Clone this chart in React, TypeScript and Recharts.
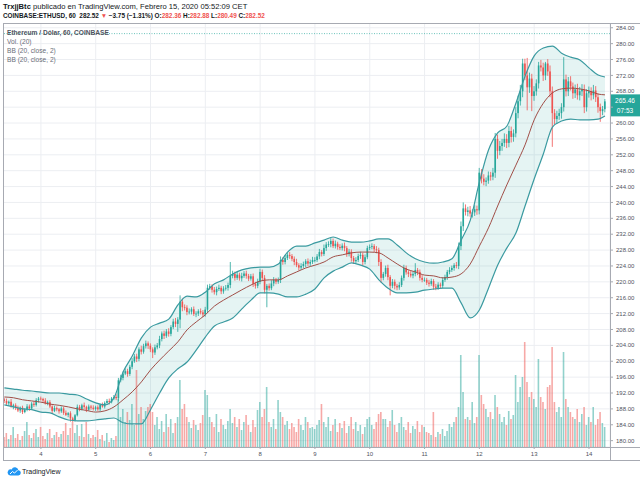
import React from "react";
import {
  ComposedChart,
  Bar,
  Line,
  Area,
  XAxis,
  YAxis,
  CartesianGrid,
  ReferenceLine,
  Cell,
} from "recharts";

const FONT = '"Liberation Sans", Arial, sans-serif';
const UP = "#26a69a";
const DOWN = "#ef5350";
const VOL_UP = "rgba(38,166,154,0.5)";
const VOL_DOWN = "rgba(239,83,80,0.5)";
const BAND = "#3a9aa0";
const BASIS = "#a04e47";

// hours counted from Feb 4 00:00, first candle is Feb 3 08:00
const FIRST_HOUR = -16;
const FIRST_OPEN = 190.4;

// hourly closes, one array per day
const closeFeb03 = [190.0, 189.4, 189.8, 188.6, 188.9, 188.2, 187.6, 188.3, 187.2, 187.8, 188.6, 188.1, 189.3, 189.0, 190.2, 190.6];
const closeFeb04 = [190.5, 190.1, 189.4, 189.7, 188.6, 187.5, 188.2, 187.9, 187.4, 188.1, 187.0, 186.5, 186.9, 185.6, 185.2, 186.4, 188.5, 188.0, 188.9, 188.5, 187.8, 188.6, 188.3, 188.0];
const closeFeb05 = [188.4, 187.9, 189.0, 188.6, 189.5, 190.0, 189.7, 190.6, 191.0, 190.7, 195.2, 195.8, 196.9, 197.5, 196.8, 198.6, 200.0, 201.2, 200.6, 203.0, 202.4, 203.8, 204.5, 203.9];
const closeFeb06 = [203.0, 202.2, 203.5, 204.0, 205.6, 207.0, 206.4, 207.5, 206.9, 208.6, 210.0, 209.4, 210.5, 215.0, 213.6, 213.5, 212.4, 212.5, 213.1, 211.9, 212.0, 212.6, 212.3, 211.8];
const closeFeb07 = [213.0, 218.5, 218.9, 218.0, 217.4, 218.2, 218.5, 217.6, 218.3, 218.5, 219.2, 221.5, 222.0, 221.0, 221.8, 220.9, 221.5, 222.1, 221.5, 220.8, 221.4, 219.5, 219.0, 220.0];
const closeFeb08 = [222.5, 221.0, 218.0, 219.0, 218.4, 219.6, 220.5, 220.0, 220.5, 225.5, 225.0, 226.0, 226.8, 226.5, 225.8, 225.0, 224.2, 223.6, 224.0, 224.5, 225.2, 224.6, 225.0, 225.5];
const closeFeb09 = [225.5, 226.4, 227.5, 227.0, 228.5, 229.4, 229.5, 230.3, 229.0, 229.6, 228.8, 228.5, 229.1, 228.5, 227.0, 227.6, 226.0, 225.2, 225.5, 226.5, 226.8, 225.0, 226.2, 228.5];
const closeFeb10 = [228.8, 229.0, 228.2, 228.0, 225.0, 221.0, 222.0, 223.5, 221.2, 219.0, 220.0, 219.0, 218.6, 219.2, 221.0, 223.5, 222.4, 222.0, 221.6, 222.0, 223.0, 222.5, 221.0, 220.5];
const closeFeb11 = [220.5, 219.8, 219.5, 220.2, 218.8, 218.5, 219.3, 219.0, 220.5, 221.2, 222.5, 223.0, 223.5, 224.2, 224.0, 229.0, 234.0, 238.5, 237.6, 238.0, 237.2, 237.5, 238.3, 238.0];
const closeFeb12 = [247.5, 246.0, 245.2, 245.5, 246.8, 246.5, 247.5, 256.0, 253.0, 254.2, 255.0, 256.0, 255.0, 258.0, 256.5, 257.4, 262.5, 265.5, 268.0, 275.0, 272.0, 269.0, 271.2, 266.8];
const closeFeb13 = [268.0, 270.0, 274.5, 274.0, 272.0, 275.0, 273.0, 268.0, 262.5, 261.0, 261.8, 262.5, 264.0, 271.0, 268.0, 270.5, 269.2, 267.5, 268.5, 267.0, 268.0, 268.5, 264.0, 267.5];
const closeFeb14 = [268.0, 267.0, 268.2, 266.5, 264.0, 263.0, 263.5, 265.46];

// wick length above the body / below the body
const upWick = [
  0.4, 0.6, 0.3, 0.7, 0.4, 0.5, 0.6, 0.3, 0.5, 0.4, 0.6, 0.5, 0.4, 0.6, 0.5, 0.4,
  0.5, 0.3, 0.6, 0.4, 0.5, 0.3, 0.6, 0.4, 0.3, 0.5, 0.4, 0.6, 0.3, 0.5, 0.4, 0.3, 0.6, 0.5, 0.4, 0.7, 0.3, 0.5, 0.4, 0.6,
  0.4, 0.5, 0.3, 0.6, 0.4, 0.5, 0.6, 0.4, 0.5, 0.7, 0.6, 0.8, 0.5, 0.7, 0.6, 0.5, 0.8, 0.6, 0.7, 0.5, 0.9, 0.6, 0.7, 0.5,
  0.6, 0.5, 0.7, 0.6, 0.8, 0.5, 0.7, 0.6, 0.8, 0.5, 0.7, 0.9, 0.6, 1.6, 0.8, 0.7, 0.6, 0.8, 0.5, 0.7, 0.6, 0.5, 0.7, 0.6,
  0.7, 0.8, 0.6, 0.5, 0.7, 0.6, 0.8, 0.5, 0.6, 0.7, 0.6, 3.5, 0.8, 0.6, 0.7, 0.5, 0.8, 0.6, 0.7, 0.5, 0.6, 0.7, 0.5, 0.8,
  0.8, 0.6, 0.7, 0.5, 0.6, 0.8, 0.7, 0.5, 0.6, 0.9, 0.7, 0.8, 0.6, 0.7, 0.5, 0.6, 0.8, 0.5, 0.7, 0.6, 0.5, 0.7, 0.6, 0.8,
  0.7, 0.6, 0.8, 0.5, 0.9, 0.6, 0.7, 0.7, 0.6, 0.8, 0.5, 0.7, 0.6, 0.8, 0.5, 0.7, 0.6, 0.5, 0.7, 0.6, 0.8, 0.5, 0.7, 0.6,
  0.6, 0.7, 0.5, 0.8, 0.6, 0.7, 0.5, 0.6, 0.8, 0.5, 0.7, 0.6, 0.5, 0.7, 0.6, 0.8, 0.6, 0.5, 0.7, 0.6, 1.7, 0.5, 0.6, 0.7,
  0.6, 0.5, 0.7, 0.6, 0.5, 0.7, 0.6, 0.5, 0.7, 0.6, 0.5, 0.7, 0.6, 0.5, 0.8, 0.9, 1.2, 1.5, 1.0, 0.9, 1.1, 0.8, 1.0, 0.9,
  1.2, 0.9, 1.1, 0.8, 1.0, 0.9, 1.2, 1.5, 1.1, 1.3, 1.0, 1.4, 1.2, 1.3, 1.1, 1.0, 1.5, 1.4, 1.6, 1.2, 1.2, 4.4, 1.5, 1.2,
  1.3, 1.0, 0.9, 1.4, 1.2, 0.4, 1.1, 1.5, 1.2, 1.0, 1.3, 1.1, 1.0, 5.6, 1.2, 1.1, 1.3, 1.0, 1.2, 1.4, 1.1, 1.3, 1.2, 1.0,
  1.2, 1.0, 1.4, 1.1, 1.0, 0.9, 0.8, 0.6,
];
const downWick = [
  0.5, 0.4, 0.6, 0.3, 0.7, 0.5, 0.4, 0.6, 0.5, 0.3, 0.4, 0.6, 0.3, 0.5, 0.4, 0.6,
  0.4, 0.6, 0.3, 0.5, 0.4, 0.7, 0.3, 0.5, 0.6, 0.4, 0.5, 0.3, 0.6, 0.8, 0.5, 0.4, 0.3, 0.6, 0.4, 0.5, 0.6, 0.3, 0.5, 0.4,
  0.5, 0.4, 0.6, 0.3, 0.5, 0.4, 0.6, 0.3, 0.4, 0.5, 0.8, 0.5, 0.6, 0.4, 0.7, 0.5, 0.6, 0.4, 0.8, 0.6, 0.7, 0.5, 0.6, 0.8,
  0.7, 1.4, 0.6, 0.5, 0.7, 0.6, 0.8, 0.5, 0.7, 0.6, 0.5, 0.8, 2.0, 2.2, 1.0, 0.7, 0.8, 0.6, 0.7, 0.5, 0.8, 0.6, 0.5, 0.7,
  0.6, 0.8, 0.5, 0.7, 0.6, 0.8, 0.5, 0.7, 0.6, 0.5, 0.7, 0.8, 0.6, 0.7, 0.5, 0.6, 0.8, 0.5, 0.7, 0.6, 0.5, 0.8, 0.7, 0.6,
  0.6, 0.7, 0.9, 4.4, 0.6, 0.5, 0.7, 0.6, 0.5, 0.8, 0.7, 0.6, 0.5, 0.7, 0.6, 0.8, 0.5, 0.7, 0.6, 0.5, 0.8, 0.6, 0.7, 0.5,
  0.6, 0.5, 0.7, 0.6, 0.5, 0.7, 0.6, 0.8, 0.5, 0.6, 0.7, 0.5, 0.6, 0.8, 0.7, 0.6, 0.9, 0.7, 0.6, 0.5, 0.7, 0.9, 0.6, 0.5,
  0.5, 0.6, 0.7, 0.8, 1.0, 1.2, 0.6, 0.7, 0.8, 2.4, 0.6, 0.9, 0.7, 0.6, 0.5, 0.7, 0.6, 0.8, 0.5, 0.7, 0.6, 0.8, 0.7, 0.6,
  0.5, 0.6, 0.7, 0.5, 0.8, 0.6, 0.5, 0.7, 0.6, 0.5, 0.7, 0.6, 0.5, 0.7, 0.6, 0.8, 1.0, 1.2, 0.9, 1.1, 0.8, 1.0, 0.9, 1.1,
  1.0, 1.2, 0.9, 1.1, 0.8, 1.0, 0.9, 1.3, 2.0, 1.1, 1.2, 1.0, 1.3, 1.1, 1.4, 1.2, 1.0, 1.3, 1.1, 1.5, 1.2, 5.8, 1.4, 3.8,
  1.2, 1.1, 1.3, 1.0, 1.4, 1.2, 1.1, 1.5, 8.5, 1.3, 1.2, 1.0, 1.4, 1.1, 1.3, 1.2, 1.0, 1.4, 1.2, 1.1, 1.3, 1.2, 1.5, 1.1,
  1.1, 1.3, 1.0, 1.2, 1.4, 2.7, 1.0, 0.8,
];

// hourly volume (relative units)
const volume = [
  10, 14, 8, 12, 20, 9, 13, 7, 11, 16, 25, 12, 9, 14, 18, 10,
  20, 11, 8, 14, 18, 9, 12, 15, 10, 13, 16, 24, 12, 19, 25, 14, 22, 11, 23, 10, 25, 13, 9, 12,
  10, 17, 8, 12, 6, 14, 5, 9, 7, 11, 48, 30, 38, 25, 35, 27, 43, 22, 77, 33, 40, 28, 36, 40,
  43, 35, 22, 30, 18, 26, 15, 33, 20, 28, 14, 24, 30, 67, 38, 43, 30, 25, 19, 27, 22, 17, 24, 32,
  57, 52, 30, 25, 20, 33, 15, 28, 22, 18, 26, 38, 24, 30, 20, 28, 17, 25, 32, 22, 15, 27, 20, 37,
  45, 30, 38, 60, 25, 20, 28, 18, 47, 35, 30, 22, 26, 18, 24, 20, 15, 28, 22, 17, 30, 25, 19, 20,
  18, 22, 27, 43, 25, 20, 30, 16, 22, 28, 15, 24, 19, 26, 14, 21, 30, 18, 25, 16, 22, 13, 20, 28,
  30, 22, 18, 25, 33, 35, 28, 28, 20, 26, 37, 22, 15, 24, 30, 20, 17, 25, 14, 21, 18, 26, 15, 22,
  20, 15, 14, 12, 35, 10, 15, 13, 18, 11, 16, 23, 20, 25, 30, 40, 92, 55, 28, 30, 27, 45, 24, 30,
  92, 52, 43, 38, 30, 35, 28, 52, 40, 33, 25, 30, 22, 36, 28, 32, 72, 45, 60, 70, 105, 65, 50, 55,
  48, 40, 88, 50, 45, 38, 60, 62, 100, 45, 35, 40, 30, 95, 48, 40, 35, 30, 28, 38, 25, 33, 40, 22,
  30, 25, 40, 22, 28, 35, 24, 20,
];

// Bollinger band (20, close, 2) read every 4 hours
const bbHours = [-16, -12, -8, -4, 0, 4, 8, 12, 16, 20, 24, 28, 32, 36, 40, 44, 48, 52, 56, 60, 64, 68, 72, 76, 80, 84, 88, 92, 96, 100, 104, 108, 112, 116, 120, 124, 128, 132, 136, 140, 144, 148, 152, 156, 160, 164, 168, 172, 176, 180, 184, 188, 192, 196, 200, 204, 208, 212, 216, 220, 224, 228, 232, 236, 240, 244, 247];
const bbUpper = [193.3, 193.0, 192.7, 192.5, 192.2, 192.0, 192.0, 191.7, 191.5, 190.5, 189.5, 189.0, 190.8, 197.3, 201.3, 205.9, 208.6, 209.6, 210.6, 214.2, 216.4, 216.2, 217.4, 219.5, 220.5, 222.0, 223.0, 223.5, 223.7, 223.7, 224.5, 227.5, 229.0, 229.0, 229.8, 230.5, 231.3, 230.5, 230.0, 230.0, 230.3, 230.8, 230.8, 229.3, 227.3, 225.8, 225.0, 224.7, 225.0, 225.8, 230.5, 235.5, 245.1, 253.2, 257.5, 259.2, 265.0, 271.8, 276.9, 278.9, 279.4, 277.6, 276.6, 275.9, 273.9, 272.1, 271.6];
const bbBasis = [191.0, 190.8, 190.3, 190.0, 189.7, 189.2, 188.9, 188.5, 188.0, 187.6, 187.2, 187.5, 188.5, 190.3, 192.3, 194.8, 197.8, 200.3, 202.6, 204.9, 207.9, 209.9, 211.7, 213.9, 215.4, 216.7, 218.0, 219.2, 220.2, 220.5, 220.5, 221.5, 222.5, 223.5, 224.2, 225.0, 226.3, 226.8, 227.3, 227.5, 227.5, 227.3, 226.0, 224.5, 223.2, 222.5, 221.7, 221.5, 221.0, 221.2, 222.0, 224.5, 229.0, 233.6, 239.1, 244.4, 249.4, 254.5, 260.8, 265.0, 267.6, 268.6, 268.8, 268.6, 268.1, 267.3, 267.1];
const bbLower = [189.0, 188.5, 188.0, 187.8, 187.2, 187.0, 186.0, 185.2, 185.0, 185.0, 185.2, 185.5, 185.7, 184.5, 184.2, 184.2, 187.8, 192.0, 195.8, 198.1, 199.8, 202.8, 206.1, 208.9, 209.9, 210.9, 213.2, 215.4, 217.2, 217.2, 216.9, 216.2, 216.2, 216.9, 218.2, 221.0, 222.7, 223.7, 224.8, 224.2, 223.2, 220.5, 218.4, 217.2, 217.2, 217.4, 217.9, 218.2, 218.4, 218.4, 214.7, 210.9, 212.9, 218.4, 224.2, 228.5, 232.3, 239.1, 245.9, 252.2, 259.0, 260.5, 261.0, 260.8, 260.8, 261.0, 261.8];

const dayTicks = [0, 24, 48, 72, 96, 120, 144, 168, 192, 216, 240];
const dayLabels = ["4", "5", "6", "7", "8", "9", "10", "11", "12", "13", "14"];
const priceTicks = [180, 184, 188, 192, 196, 200, 204, 208, 212, 216, 220, 224, 228, 232, 236, 240, 244, 248, 252, 256, 260, 264, 268, 272, 276, 280, 284];

const LAST_PRICE = 265.46;
const PRICE_LINE = 282.52;
// the tick label hidden under the last-price tag
const HIDDEN_TICK = 264;

const closes = [
  ...closeFeb03, ...closeFeb04, ...closeFeb05, ...closeFeb06, ...closeFeb07, ...closeFeb08,
  ...closeFeb09, ...closeFeb10, ...closeFeb11, ...closeFeb12, ...closeFeb13, ...closeFeb14,
];

const bbIndex = new Map(bbHours.map((h, k) => [h, k]));

const rows = closes.map((c, i) => {
  const t = FIRST_HOUR + i;
  // crypto hourly bars open at the previous close
  const o = i === 0 ? FIRST_OPEN : closes[i - 1];
  const k = bbIndex.get(t);
  return {
    t,
    o,
    c,
    h: Math.max(o, c) + upWick[i],
    l: Math.min(o, c) - downWick[i],
    v: volume[i],
    up: c >= o,
    band: k === undefined ? null : [bbLower[k], bbUpper[k]],
    bbU: k === undefined ? null : bbUpper[k],
    bbM: k === undefined ? null : bbBasis[k],
    bbL: k === undefined ? null : bbLower[k],
  };
});

function Candle(props: any) {
  const { x, y, width, height, payload } = props;
  if (!payload || height == null) return null;
  const { o, c, h, l } = payload;
  const k = height / (h - l);
  const cx = x + width / 2;
  const yo = y + (h - o) * k;
  const yc = y + (h - c) * k;
  const color = c >= o ? UP : DOWN;
  return (
    <g>
      <line x1={cx} x2={cx} y1={y} y2={y + height} stroke={color} strokeWidth={0.8} />
      <rect x={cx - 0.8} y={Math.min(yo, yc)} width={1.6} height={Math.max(Math.abs(yc - yo), 0.8)} fill={color} />
    </g>
  );
}

function PriceTick(props: any) {
  const { x, y, payload } = props;
  if (payload.value === HIDDEN_TICK) return <g />;
  return (
    <text x={x} y={y} dy="0.35em" textAnchor="start" fontSize={6} fill="#50535e" fontFamily={FONT}>
      {Number(payload.value).toFixed(2)}
    </text>
  );
}

function PriceTag(props: any) {
  const vb = props.viewBox;
  if (!vb) return null;
  const x = vb.x + vb.width;
  const y = vb.y;
  return (
    <g>
      <rect x={x} y={y - 7} width={30} height={22} fill={UP} />
      <text x={x + 15} y={y + 1.5} textAnchor="middle" fontSize={6.5} fill="#fff" fontFamily={FONT}>
        {LAST_PRICE.toFixed(2)}
      </text>
      <text x={x + 15} y={y + 12} textAnchor="middle" fontSize={6.5} fill="#fff" fontFamily={FONT}>
        07:53
      </text>
    </g>
  );
}

function Logo() {
  return (
    <svg width={14} height={10} viewBox="0 0 14 10" style={{ position: "absolute", left: 7, top: 466 }}>
      <path d="M3 9.5 h8 a2.6 2.6 0 0 0 0.4 -5.2 a3.6 3.6 0 0 0 -6.8 -0.9 a3 3 0 0 0 -1.6 6.1z" fill="#2196f3" />
      <path d="M3 8 l2.5 -2.5 l2 1.6 l3 -3" stroke="#fff" strokeWidth={1} fill="none" />
    </svg>
  );
}

const grey = "#a7aab2";

export default function App() {
  return (
    <div
      style={{
        position: "absolute",
        left: 0,
        top: 0,
        width: 640,
        height: 481,
        background: "#fff",
        fontFamily: FONT,
        color: "#131722",
        overflow: "hidden",
      }}
    >
      <div style={{ position: "absolute", left: 3, top: 2, fontSize: 7.6, lineHeight: "9px", whiteSpace: "nowrap" }}>
        <b>TrxjjBtc</b> publicado en TradingView.com, Febrero 15, 2020 05:52:09 CET
      </div>
      <div
        style={{
          position: "absolute",
          left: 3,
          top: 11,
          fontSize: 6.4,
          fontWeight: 700,
          lineHeight: "9px",
          whiteSpace: "nowrap",
        }}
      >
        COINBASE:ETHUSD, 60&nbsp; 282.52 <span style={{ color: DOWN }}>▼</span> −3.75 (−1.31%) O:
        <span style={{ color: DOWN }}>282.36</span> H:<span style={{ color: DOWN }}>282.88</span> L:
        <span style={{ color: DOWN }}>280.49</span> C:<span style={{ color: DOWN }}>282.52</span>
      </div>

      <div style={{ position: "absolute", left: 3, top: 23 }}>
        <ComposedChart width={637} height={438} data={rows} margin={{ top: 0, right: 0, bottom: 0, left: 0 }}>
          <CartesianGrid yAxisId="p" stroke="#eceef2" />
          <XAxis
            dataKey="t"
            type="number"
            domain={[-16.6, 249.2]}
            allowDataOverflow
            ticks={dayTicks}
            interval={0}
            tickFormatter={(v) => dayLabels[dayTicks.indexOf(v)]}
            height={14}
            axisLine={false}
            tickSize={2}
            tickMargin={3}
            tickLine={{ stroke: grey }}
            tick={{ fontSize: 6, fill: "#50535e", fontFamily: FONT }}
          />
          <XAxis xAxisId="v" dataKey="t" type="number" domain={[-16.6, 249.2]} allowDataOverflow hide />
          <YAxis
            yAxisId="p"
            orientation="right"
            type="number"
            domain={[178.4, 285.2]}
            allowDataOverflow
            ticks={priceTicks}
            interval={0}
            width={30}
            axisLine={false}
            tickSize={3}
            tickMargin={3}
            tickLine={{ stroke: grey }}
            tick={<PriceTick />}
          />
          <YAxis yAxisId="v" type="number" domain={[0, 424]} allowDataOverflow hide />

          <Bar xAxisId="v" yAxisId="v" dataKey="v" barSize={1.6} isAnimationActive={false}>
            {rows.map((r, i) => (
              <Cell key={i} fill={r.up ? VOL_UP : VOL_DOWN} />
            ))}
          </Bar>

          <Area
            yAxisId="p"
            type="monotone"
            dataKey="band"
            connectNulls
            stroke="none"
            fill={UP}
            fillOpacity={0.12}
            isAnimationActive={false}
          />
          <Line yAxisId="p" type="monotone" dataKey="bbU" connectNulls stroke={BAND} strokeWidth={1.2} dot={false} activeDot={false} isAnimationActive={false} />
          <Line yAxisId="p" type="monotone" dataKey="bbL" connectNulls stroke={BAND} strokeWidth={1.2} dot={false} activeDot={false} isAnimationActive={false} />
          <Line yAxisId="p" type="monotone" dataKey="bbM" connectNulls stroke={BASIS} strokeWidth={1} dot={false} activeDot={false} isAnimationActive={false} />

          <ReferenceLine yAxisId="p" y={PRICE_LINE} stroke="#6cc3bb" strokeDasharray="1 1.5" />

          <Bar
            yAxisId="p"
            dataKey={(d: any) => [d.l, d.h]}
            barSize={2}
            shape={Candle}
            isAnimationActive={false}
          />

          <ReferenceLine yAxisId="p" y={LAST_PRICE} stroke="none" label={<PriceTag />} />
        </ComposedChart>
      </div>

      {/* frame and pane separators */}
      <div style={{ position: "absolute", left: 3, top: 23, width: 637, height: 438, border: `1px solid ${grey}`, borderRight: "none", boxSizing: "border-box", pointerEvents: "none" }} />
      <div style={{ position: "absolute", left: 609.5, top: 23, width: 1, height: 438, background: grey }} />
      <div style={{ position: "absolute", left: 3, top: 447, width: 637, height: 1, background: grey }} />

      <div style={{ position: "absolute", left: 7, top: 28, fontSize: 6.6, lineHeight: "9px", color: "#6a6d78", whiteSpace: "nowrap" }}>
        <div style={{ color: "#50535e", fontWeight: 700 }}>Ethereum / Dólar, 60, COINBASE</div>
        <div>Vol. (20)</div>
        <div>BB (20, close, 2)</div>
        <div>BB (20, close, 2)</div>
      </div>

      <Logo />
      <div style={{ position: "absolute", left: 22, top: 467, fontSize: 7, lineHeight: "9px", color: "#131722" }}>TradingView</div>
    </div>
  );
}
